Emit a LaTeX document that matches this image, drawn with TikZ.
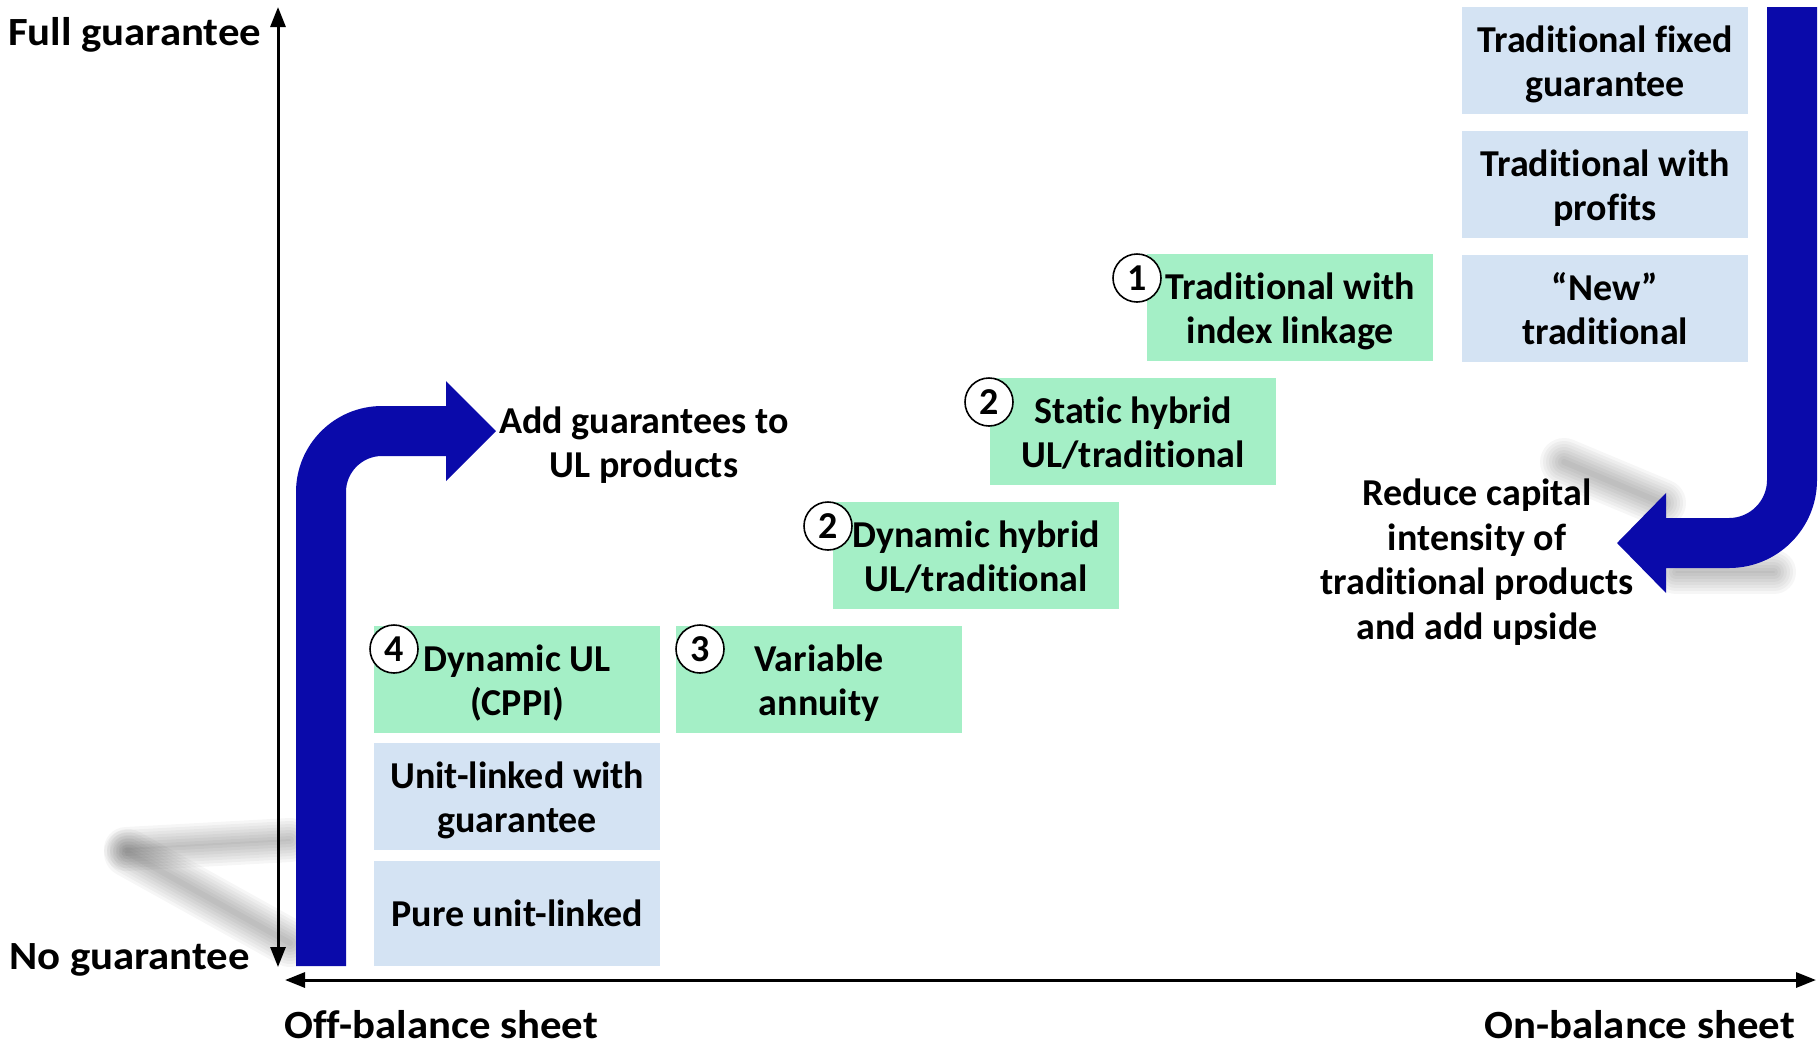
\documentclass[tikz,border=0pt]{standalone}
\usepackage{fontspec}
\setmainfont{Carlito}[Ligatures={NoCommon,NoContextual}, Contextuals=NoAlternate]
\newfontfamily\widecarlito{Carlito}[Ligatures={NoCommon,NoContextual},
  Contextuals=NoAlternate, FakeStretch=1.07]
\usetikzlibrary{arrows.meta}

\definecolor{arrowblue}{RGB}{10,10,170}
\definecolor{stepgreen}{RGB}{164,239,198}
\definecolor{stepblue}{RGB}{212,227,243}

\newcommand\stepfont{\fontsize{38}{44.5}\selectfont\bfseries}
\newcommand\digitfont{\fontsize{38}{40}\selectfont\bfseries}
\newcommand\axlabelfont{\widecarlito\fontsize{40}{46}\selectfont\bfseries}
% two-line box label set on a fixed strut grid
\newcommand\twoline[2]{\rule[-9.5pt]{0pt}{46.5pt}#1\\#2\rule[-9.5pt]{0pt}{9.5pt}}
\newcommand\onestrut{\rule[-9.5pt]{0pt}{44.5pt}}

% soft grey band used for the cast shadows of the bent arrows
\newcommand\softshadow[3]{%
  \foreach \w in {0,6,12,18,24,30,36,42}{%
    \draw[line width=#3+\w, draw=black, draw opacity=0.036, line cap=round] #1 -- #2;}}

\begin{document}
\begin{tikzpicture}[x=1pt,y=-1pt,
  box/.style={minimum width=286pt, minimum height=107pt, inner sep=0pt,
              align=center, font=\stepfont, anchor=north west},
  greenbox/.style={box, fill=stepgreen},
  bluebox/.style={box, fill=stepblue},
  num/.style={circle, draw=black, line width=1.6pt, fill=white,
              minimum size=48pt, inner sep=0pt, font=\digitfont},
  note/.style={align=center, font=\stepfont, inner sep=0pt},
  axislabel/.style={font=\axlabelfont, inner sep=0pt},
  axis/.style={line width=3pt,
               {Triangle[length=20pt,width=15pt]}-{Triangle[length=20pt,width=15pt]}},
]
\useasboundingbox (0,0) rectangle (1819,1045);

% cast shadows
\softshadow{(126,849)}{(290,840)}{2}
\softshadow{(128,853)}{(290,943)}{6}
\softshadow{(1564,462)}{(1662,503)}{6}
\softshadow{(1676,572)}{(1774,572)}{2}

% axes
\coordinate (ytop) at (278,7);
\coordinate (ybot) at (278,967);
\coordinate (xleft) at (285,980);
\coordinate (xright) at (1816,980);
\draw[axis] (ybot) -- (ytop);
\draw[axis] (xleft) -- (xright);

\node[axislabel, anchor=base west] (full) at (8,45) {Full guarantee};
\node[axislabel, anchor=base west] (none) at (9,969) {No guarantee};
\node[axislabel, anchor=base west] (off) at (284,1038) {Off-balance sheet};
\node[axislabel, anchor=base east] (on) at (1795,1038) {On-balance sheet};

% bent arrow: add guarantees
\fill[arrowblue] (296,966) -- (296,492) arc[start angle=180, end angle=270, radius=86]
  -- (446,406) -- (446,381) -- (496,431) -- (446,481) -- (446,456) -- (382,456)
  arc[start angle=270, end angle=180, radius=36] -- (346,966) -- cycle;

% bent arrow: reduce capital intensity
\fill[arrowblue] (1767,7) -- (1817,7) -- (1817,480) arc[start angle=0, end angle=90, radius=88]
  -- (1666,568) -- (1666,593) -- (1617,543) -- (1666,493) -- (1666,518) -- (1729,518)
  arc[start angle=90, end angle=0, radius=38] -- cycle;

% product boxes
\node[bluebox] (fixed) at (1462,7) {\twoline{Traditional fixed}{guarantee}};
\node[bluebox] (withprofits) at (1462,131) {\twoline{Traditional with}{profits}};
\node[bluebox] (newtrad) at (1462,255) {\twoline{“New”}{traditional}};
\node[greenbox] (index) at (1147,254) {\twoline{Traditional with}{index linkage}};
\node[greenbox] (static) at (990,378) {\twoline{Static hybrid}{UL/traditional}};
\node[greenbox] (dynhyb) at (833,502) {\twoline{Dynamic hybrid}{UL/traditional}};
\node[greenbox] (va) at (676,626) {\twoline{Variable}{annuity}};
\node[greenbox] (dynul) at (374,626) {\twoline{Dynamic UL}{(CPPI)}};
\node[bluebox] (ulg) at (374,743) {\twoline{Unit-linked with}{guarantee}};
\node[bluebox, minimum height=105pt] (pure) at (374,861) {\onestrut Pure unit-linked\onestrut};

% numbered markers
\node[num] (n1) at (1137,278) {1};
\node[num] (n2a) at (989,402) {2};
\node[num] (n2b) at (828,526) {2};
\node[num] (n3) at (700,649) {3};
\node[num] (n4) at (394,649) {4};

% annotations
\node[note] (addg) at (644,445) {Add guarantees to\\UL products};
\node[note] (reduce) at (1477,562) {Reduce capital\\intensity of\\traditional products\\and add upside};
\end{tikzpicture}
\end{document}
